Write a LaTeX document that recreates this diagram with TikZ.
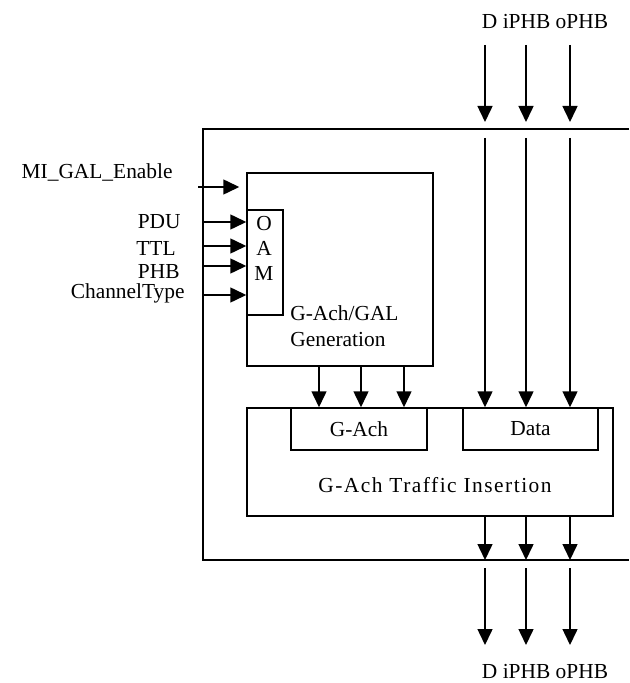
\documentclass[tikz,border=0pt]{standalone}
\usepackage{fontspec}
\setmainfont{Liberation Serif}
\usetikzlibrary{arrows.meta}

\tikzset{
  box/.style={draw, line width=0.75pt, inner sep=0pt},
  lbl/.style={inner sep=0pt},
  sig/.style={line width=0.75pt, -{Triangle[width=7.5pt,length=8pt]}}
}

\begin{document}
\begin{tikzpicture}[x=0.5pt,y=-0.5pt,font=\fontsize{10.7}{13}\selectfont]
      \useasboundingbox (0,0) rectangle (629,683);
      % frame, open on the right
      \coordinate (ft) at (203,129);
      \coordinate (fb) at (203,560);
      \draw[line width=1pt] (629,129) -- (ft) -- (fb) -- (629,560);
      % blocks
      \node[box, minimum width=93pt, minimum height=96.5pt] (gen) at (340,269.5) {};
      \node[box, minimum width=18pt, minimum height=52.5pt] (oam) at (265,262.5) {};
      \node[box, minimum width=183pt, minimum height=54pt] (ins) at (430,462) {};
      \node[box, minimum width=68pt, minimum height=21pt] (gach) at (359,429) {G-Ach};
      \node[box, minimum width=67.5pt, minimum height=21pt] (data) at (530.5,429) {Data};
      \node[lbl, align=left, anchor=west] (gentxt) at (290,326) {G-Ach/GAL\\Generation};
      \node[lbl, align=center, font=\fontsize{10.7}{12.5}\selectfont] (oamtxt) at (264,248) {O\\A\\M};
      \node[lbl] (instxt) at (435,485) {\addfontfeature{LetterSpace=7}G-Ach\ Traffic Insertion};
      % inputs on the left
      \node[lbl, anchor=base east] (en) at (173,179) {MI\_GAL\_Enable};
      \node[lbl, anchor=base east] (pdu) at (181,229) {PDU};
      \node[lbl, anchor=base east] (ttl) at (176,256) {TTL};
      \node[lbl, anchor=base east] (phb) at (180,279) {PHB};
      \node[lbl, anchor=base east] (ct) at (185,299) {ChannelType};
      \coordinate (enin) at (198,187);
      \coordinate (pduin) at (203,222);
      \coordinate (ttlin) at (203,246);
      \coordinate (phbin) at (203,266);
      \coordinate (ctin) at (203,295);
      \draw[sig] (enin) -- ([xshift=-3.5pt]enin -| gen.west);
      \draw[sig] (pduin) -- (pduin -| oam.west);
      \draw[sig] (ttlin) -- (ttlin -| oam.west);
      \draw[sig] (phbin) -- (phbin -| oam.west);
      \draw[sig] (ctin) -- (ctin -| oam.west);
      % generation to G-Ach
      \coordinate (g1) at (319,366);
      \coordinate (g2) at (361,366);
      \coordinate (g3) at (404,366);
      \draw[sig] (g1) -- (g1 |- gach.north);
      \draw[sig] (g2) -- (g2 |- gach.north);
      \draw[sig] (g3) -- (g3 |- gach.north);
      % data in
      \node[lbl] (toplbl) at (545,22) {D iPHB oPHB};
      \coordinate (dIn) at (485,45);
      \coordinate (iIn) at (526,45);
      \coordinate (oIn) at (570,45);
      \draw[sig] (dIn) -- ++(0,77);
      \draw[sig] (iIn) -- ++(0,77);
      \draw[sig] (oIn) -- ++(0,77);
      \coordinate (dTop) at (485,138);
      \coordinate (iTop) at (526,138);
      \coordinate (oTop) at (570,138);
      \draw[sig] (dTop) -- (dTop |- data.north);
      \draw[sig] (iTop) -- (iTop |- data.north);
      \draw[sig] (oTop) -- (oTop |- data.north);
      % data out
      \draw[sig] (dTop |- ins.south) -- (dTop |- fb);
      \draw[sig] (iTop |- ins.south) -- (iTop |- fb);
      \draw[sig] (oTop |- ins.south) -- (oTop |- fb);
      \coordinate (dBot) at (485,568);
      \coordinate (iBot) at (526,568);
      \coordinate (oBot) at (570,568);
      \draw[sig] (dBot) -- ++(0,77);
      \draw[sig] (iBot) -- ++(0,77);
      \draw[sig] (oBot) -- ++(0,77);
      \node[lbl] (botlbl) at (545,672) {D iPHB oPHB};
    \end{tikzpicture}
\end{document}
